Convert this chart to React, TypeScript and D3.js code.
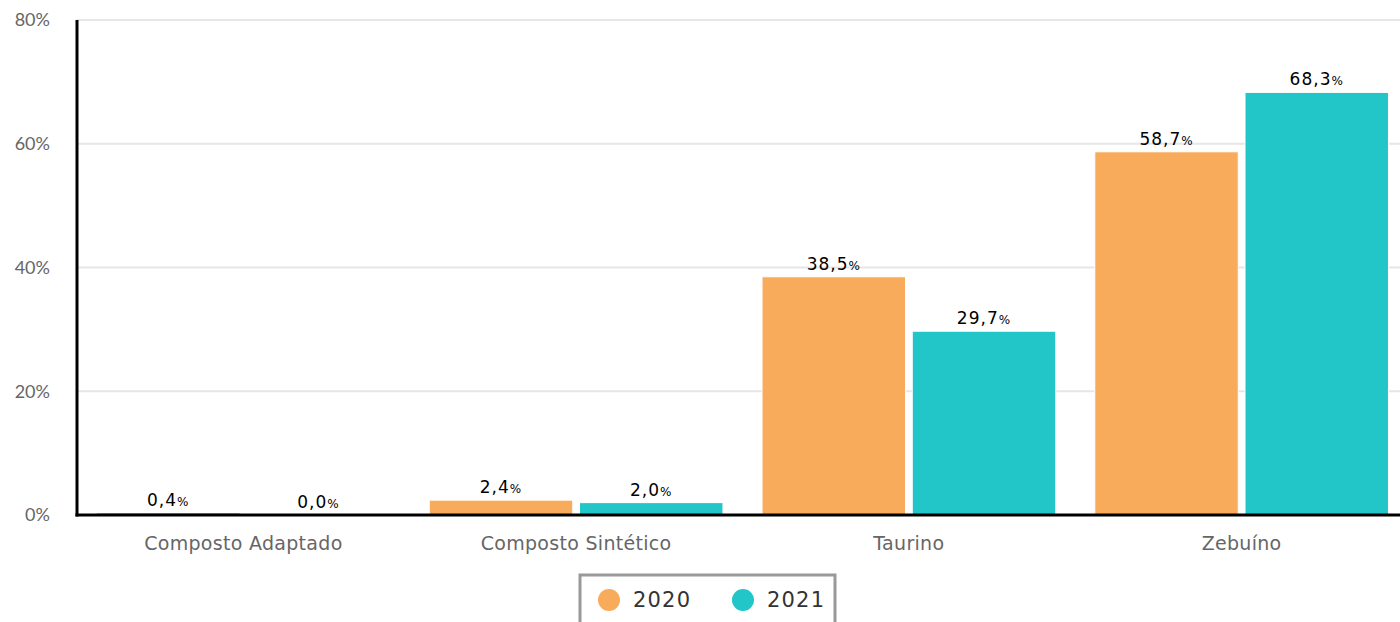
import React from "react";
import * as d3 from "d3";

const categories = ["Composto Adaptado", "Composto Sintético", "Taurino", "Zebuíno"];
const seriesNames = ["2020", "2021"];
const values2020 = [0.4, 2.4, 38.5, 58.7];
const values2021 = [0.0, 2.0, 29.7, 68.3];
const yTicks = [0, 20, 40, 60, 80];
const colors = ["#F7AB5B", "#22C5C8"];

const W = 1400;
const H = 622;
const left = 77;
const right = 1408;
const top = 20;
const bottom = 515;

export default function App() {
  const x = d3.scaleBand<string>().domain(categories).range([left, right]).paddingInner(0).paddingOuter(0);
  const x1 = d3.scaleBand<string>().domain(seriesNames).range([0, x.bandwidth()]).paddingInner(0.045).paddingOuter(0.13);
  const y = d3.scaleLinear().domain([0, 80]).range([bottom, top]);
  const series = [values2020, values2021];
  const font = "'DejaVu Sans', Verdana, sans-serif";
  const fmt = (v: number) => v.toFixed(1).replace(".", ",");

  return (
    <svg width={W} height={H} style={{ position: "absolute", left: 0, top: 0, background: "#fff" }}>
      {yTicks.map((t) => (
        <g key={t}>
          {t > 0 && <line x1={left} x2={W} y1={y(t)} y2={y(t)} stroke="#e6e6e6" strokeWidth={2} />}
          <text x={50} y={y(t)} dy="0.35em" textAnchor="end" fontFamily="Lato, sans-serif" fontSize={18} fill="#666">
            {t}%
          </text>
        </g>
      ))}
      {categories.map((c, i) => (
        <g key={c} transform={`translate(${x(c)},0)`}>
          {series.map((vals, s) => {
            const v = vals[i];
            const bx = x1(seriesNames[s])!;
            const bw = x1.bandwidth();
            return (
              <g key={s}>
                <rect x={bx} y={y(v)} width={bw} height={Math.max(0, bottom - y(v))} fill={colors[s]} stroke="#fff" strokeWidth={1} />
                <text x={bx + bw / 2} y={y(v) - 7} textAnchor="middle" fontFamily={font} fontSize={17} fill="#000" letterSpacing={1}>
                  {fmt(v)}
                  <tspan fontSize={12}>%</tspan>
                </text>
              </g>
            );
          })}
          <text x={x.bandwidth() / 2} y={550} textAnchor="middle" fontFamily={font} fontSize={19} fill="#666" letterSpacing={0.3}>
            {c}
          </text>
        </g>
      ))}
      <line x1={left} x2={left} y1={top} y2={bottom + 1.5} stroke="#000" strokeWidth={3} />
      <line x1={left - 1.5} x2={W} y1={bottom} y2={bottom} stroke="#000" strokeWidth={3} />
      <g>
        <rect x={580} y={575} width={255} height={60} fill="#fff" stroke="#999" strokeWidth={3} />
        {seriesNames.map((s, i) => (
          <g key={s} transform={`translate(${609 + i * 134},600)`}>
            <circle cx={0} cy={0} r={11} fill={colors[i]} />
            <text x={24} y={0} dy="0.35em" fontFamily={font} fontSize={21} fill="#333" letterSpacing={1.2}>
              {s}
            </text>
          </g>
        ))}
      </g>
    </svg>
  );
}
